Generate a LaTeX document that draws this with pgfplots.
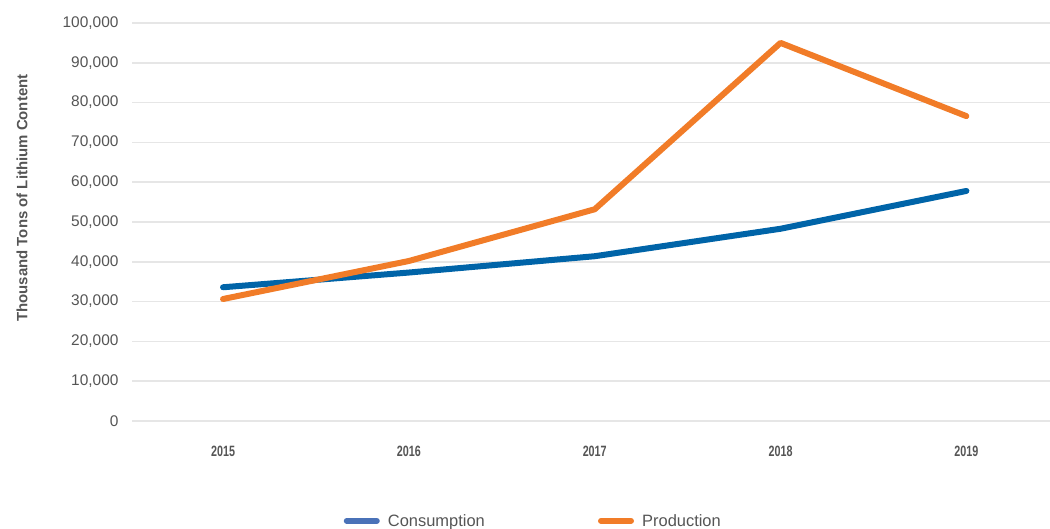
\documentclass[border=0pt]{standalone}
\usepackage{pgfplots}
\pgfplotsset{compat=1.18}
\usepackage{fontspec}
\setmainfont{Liberation Sans}
\definecolor{consC}{HTML}{0064A8}
\definecolor{prodC}{HTML}{F17C28}
\definecolor{consL}{HTML}{4A72B8}
\definecolor{gridC}{HTML}{E6E6E6}
\definecolor{txtC}{HTML}{555555}
\begin{document}
\begin{tikzpicture}[x=1bp,y=1bp]
\useasboundingbox (0,0) rectangle (1050,529);
\begin{axis}[
  at={(132bp,108bp)}, anchor=south west,
  scale only axis, width=918bp, height=398bp,
  xmin=-0.49, xmax=4.45, ymin=0, ymax=100000,
  xtick={0,1,2,3,4},
  xticklabels={\scalebox{0.72}[1]{2015},\scalebox{0.72}[1]{2016},\scalebox{0.72}[1]{2017},\scalebox{0.72}[1]{2018},\scalebox{0.72}[1]{2019}},
  ytick={0,10000,...,100000},
  scaled y ticks=false,
  /pgf/number format/assume math mode=true,
  yticklabel={\pgfmathprintnumber[fixed,1000 sep={,}]{\tick}},
  every tick label/.append style={font=\fontsize{15.5}{17}\selectfont, text=txtC},
  xticklabel style={font=\fontsize{15}{17}\selectfont\bfseries, text=txtC, yshift=-22bp},
  yticklabel style={xshift=-10bp},
  major tick length=0pt,
  axis line style={draw=none},
  ymajorgrids, grid style={gridC, line width=1.5bp},
  ylabel={Thousand Tons of Lithium Content},
  ylabel style={font=\fontsize{15}{17}\selectfont\bfseries, text=txtC, at={(axis description cs:-0.1198,0.56)}, anchor=center},
  legend style={at={(axis description cs:0.437,-0.251)}, anchor=center, draw=none, fill=none,
    legend columns=2, font=\fontsize{16.5}{18}\selectfont, text=txtC,
    /tikz/every even column/.append style={column sep=111bp}},
  legend image code/.code={\draw[#1, line width=6bp, line cap=round] (3bp,0bp) -- (33bp,0bp); \path (0bp,0bp) (42bp,0bp);},
]
\addplot[consC, line width=6bp, line cap=round, line join=round, forget plot] coordinates {
 (0,33600) (1,37300) (2,41400) (3,48300) (4,57800)};
\addplot[prodC, line width=6bp, line cap=round, line join=round, forget plot] coordinates {
 (0,30650) (1,40200) (2,53200) (3,95000) (4,76600)};
\addlegendimage{consL}
\addlegendentry{Consumption}
\addlegendimage{prodC}
\addlegendentry{Production}
\end{axis}
\end{tikzpicture}
\end{document}
